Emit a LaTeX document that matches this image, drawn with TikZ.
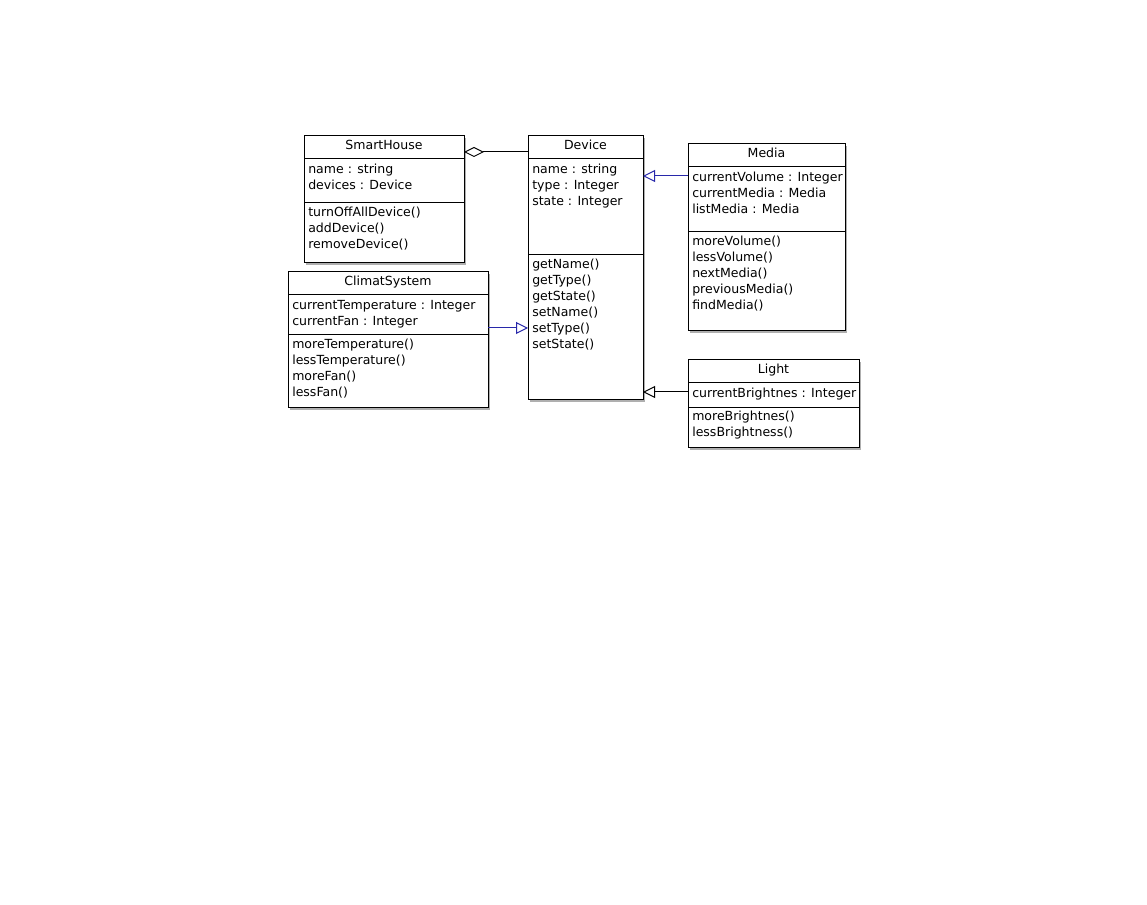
\documentclass[tikz,border=0pt]{standalone}
\usepackage{fontspec}
\setmainfont{DejaVu Sans}
\usetikzlibrary{arrows.meta}
\definecolor{assoc}{RGB}{40,40,170}
\definecolor{shadowgray}{RGB}{175,175,175}
\begin{document}
\begin{tikzpicture}[x=0.75pt,y=-0.75pt,
  cls/.style={draw=black, fill=white, line width=0.75pt, inner sep=0pt, outer sep=0pt, anchor=north west},
  shd/.style={fill=shadowgray, draw=none, inner sep=0pt, outer sep=0pt, anchor=north west},
  txt/.style={font=\fontsize{9.4}{11}\selectfont, inner sep=0pt, anchor=base west},
  ttl/.style={font=\fontsize{9.4}{11}\selectfont, inner sep=0pt, anchor=base},
  sep/.style={line width=0.75pt},
  gen/.style={line width=0.75pt, -{Triangle[open,length=9pt,width=9pt]}},
  agg/.style={line width=0.75pt, {Diamond[open,length=15pt,width=7.5pt]}-}]
\useasboundingbox (0,0) rectangle (1147,905);

% ---------- SmartHouse ----------
\node[shd, minimum width=120pt, minimum height=95.25pt] (shs) at (306,138) {};
\node[cls, minimum width=120pt, minimum height=95.25pt] (sh) at (304,136) {};
\draw[sep] (sh.west |- 0,159) -- (sh.east |- 0,159);
\draw[sep] (sh.west |- 0,203) -- (sh.east |- 0,203);
\node[ttl] (sht) at (384,150) {SmartHouse};
\node[txt] (sha1) at (308,174) {name : string};
\node[txt] (sha2) at (308,190) {devices : Device};
\node[txt] (shm1) at (308,217) {turnOffAllDevice()};
\node[txt] (shm2) at (308,233) {addDevice()};
\node[txt] (shm3) at (308,249) {removeDevice()};

% ---------- Device ----------
\node[shd, minimum width=86.25pt, minimum height=198pt] (devs) at (530,138) {};
\node[cls, minimum width=86.25pt, minimum height=198pt] (dev) at (528,136) {};
\draw[sep] (dev.west |- 0,159) -- (dev.east |- 0,159);
\draw[sep] (dev.west |- 0,255) -- (dev.east |- 0,255);
\node[ttl] (devt) at (585.5,150) {Device};
\node[txt] (deva1) at (532,174) {name : string};
\node[txt] (deva2) at (532,190) {type : Integer};
\node[txt] (deva3) at (532,206) {state : Integer};
\node[txt] (devm1) at (532,269) {getName()};
\node[txt] (devm2) at (532,285) {getType()};
\node[txt] (devm3) at (532,301) {getState()};
\node[txt] (devm4) at (532,317) {setName()};
\node[txt] (devm5) at (532,333) {setType()};
\node[txt] (devm6) at (532,349) {setState()};

% ---------- Media ----------
\node[shd, minimum width=117.75pt, minimum height=140.25pt] (meds) at (690,146) {};
\node[cls, minimum width=117.75pt, minimum height=140.25pt] (med) at (688,144) {};
\draw[sep] (med.west |- 0,167) -- (med.east |- 0,167);
\draw[sep] (med.west |- 0,232) -- (med.east |- 0,232);
\node[ttl] (medt) at (766.5,158) {Media};
\node[txt] (meda1) at (692,182) {currentVolume : Integer};
\node[txt] (meda2) at (692,198) {currentMedia : Media};
\node[txt] (meda3) at (692,214) {listMedia : Media};
\node[txt] (medm1) at (692,246) {moreVolume()};
\node[txt] (medm2) at (692,262) {lessVolume()};
\node[txt] (medm3) at (692,278) {nextMedia()};
\node[txt] (medm4) at (692,294) {previousMedia()};
\node[txt] (medm5) at (692,310) {findMedia()};

% ---------- ClimatSystem ----------
\node[shd, minimum width=150pt, minimum height=102pt] (clis) at (290,274) {};
\node[cls, minimum width=150pt, minimum height=102pt] (cli) at (288,272) {};
\draw[sep] (cli.west |- 0,295) -- (cli.east |- 0,295);
\draw[sep] (cli.west |- 0,335) -- (cli.east |- 0,335);
\node[ttl] (clit) at (388,286) {ClimatSystem};
\node[txt] (clia1) at (292,310) {currentTemperature : Integer};
\node[txt] (clia2) at (292,326) {currentFan : Integer};
\node[txt] (clim1) at (292,349) {moreTemperature()};
\node[txt] (clim2) at (292,365) {lessTemperature()};
\node[txt] (clim3) at (292,381) {moreFan()};
\node[txt] (clim4) at (292,397) {lessFan()};

% ---------- Light ----------
\node[shd, minimum width=128.25pt, minimum height=66pt] (lis) at (690,362) {};
\node[cls, minimum width=128.25pt, minimum height=66pt] (li) at (688,360) {};
\draw[sep] (li.west |- 0,383) -- (li.east |- 0,383);
\draw[sep] (li.west |- 0,408) -- (li.east |- 0,408);
\node[ttl] (lit) at (773.5,374) {Light};
\node[txt] (lia1) at (692,398) {currentBrightnes : Integer};
\node[txt] (lim1) at (692,421) {moreBrightnes()};
\node[txt] (lim2) at (692,437) {lessBrightness()};

% ---------- Connectors ----------
\draw[agg] (sh.east |- 0,152) -- (dev.west |- 0,152);
\draw[gen, draw=assoc] (med.west |- 0,176) -- (dev.east |- 0,176);
\draw[gen, draw=assoc] (cli.east |- 0,328) -- (dev.west |- 0,328);
\draw[gen] (li.west |- 0,392) -- (dev.east |- 0,392);
\end{tikzpicture}
\end{document}
